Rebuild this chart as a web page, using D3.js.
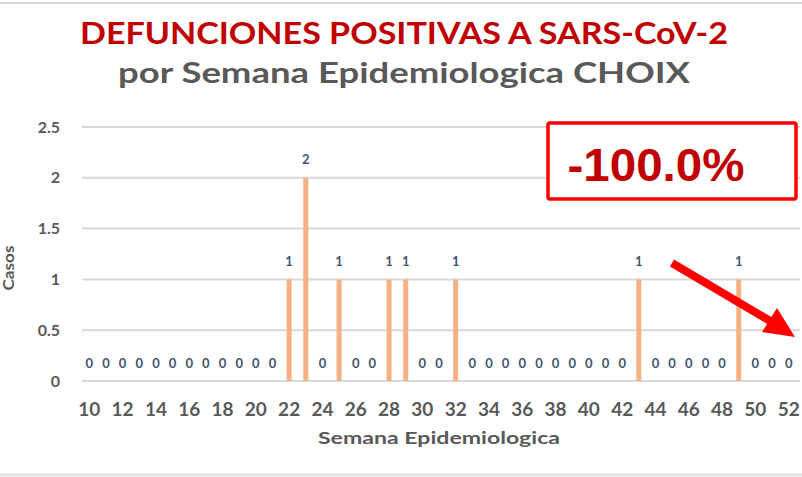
<!DOCTYPE html>
<html><head><meta charset="utf-8">
<script src="https://cdn.jsdelivr.net/npm/d3@7"></script>
<style>body{margin:0;background:#fff}svg{display:block}</style>
</head><body>
<svg id="c" width="802" height="477"></svg>
<script>
const weeks = d3.range(10, 53);
const deaths = [0,0,0,0,0,0,0,0,0,0,0,0, 1,2,0,1,0,0,1,1,0,0,1, 0,0,0,0,0,0,0,0,0,0, 1,0,0,0,0,0, 1,0,0,0];
const yTicks = [0, 0.5, 1, 1.5, 2, 2.5];
const xTickLabels = weeks.filter(w => w % 2 === 0);
const title = "DEFUNCIONES POSITIVAS A SARS-CoV-2";
const subtitle = "por Semana Epidemiologica CHOIX";
const changeLabel = "-100.0%";

const svg = d3.select("#c");
const font = "Lato, 'Open Sans', sans-serif";

// frame lines
svg.append("line").attr("x1",0).attr("x2",802).attr("y1",3).attr("y2",3).attr("stroke","#d9d9d9").attr("stroke-width",2);
svg.append("line").attr("x1",0).attr("x2",802).attr("y1",475).attr("y2",475).attr("stroke","#e3e3e3").attr("stroke-width",3);

const x = d3.scaleBand().domain(weeks).range([81, 797]);
const y = d3.scaleLinear().domain([0, 2.5]).range([381, 127]);

// grid
svg.append("g").selectAll("line").data(yTicks).join("line")
  .attr("x1", 82).attr("x2", 800)
  .attr("y1", d => y(d)).attr("y2", d => y(d))
  .attr("stroke", "#d9d9d9").attr("stroke-width", 2);

// y labels
svg.append("g").selectAll("text").data(yTicks).join("text")
  .attr("x", 60).attr("y", d => y(d)).attr("dy", "0.35em")
  .attr("text-anchor", "end").attr("font-family", font).attr("font-weight", "bold")
  .attr("font-size", 16).attr("fill", "#595959").text(d => d);

// x labels
svg.append("g").selectAll("text").data(xTickLabels).join("text")
  .attr("x", d => x(d) + x.bandwidth()/2).attr("y", 409).attr("dy","0.35em")
  .attr("text-anchor", "middle").attr("font-family", font).attr("font-weight", "bold")
  .attr("font-size", 19).attr("fill", "#595959").text(d => d);

const data = weeks.map((w, i) => ({w, v: deaths[i]}));

// bars
svg.append("g").selectAll("rect").data(data.filter(d => d.v > 0)).join("rect")
  .attr("x", d => x(d.w) + x.bandwidth()/2 - 2.5).attr("width", 5)
  .attr("y", d => y(d.v)).attr("height", d => y(0) - y(d.v))
  .attr("fill", "#F4B183");

// value labels
svg.append("g").selectAll("text").data(data).join("text")
  .attr("x", d => x(d.w) + x.bandwidth()/2).attr("y", d => y(d.v) - 18).attr("dy","0.35em")
  .attr("text-anchor", "middle").attr("font-family", font).attr("font-weight", "bold")
  .attr("font-size", 13).attr("fill", "#44546A").text(d => d.v);

// axis titles
svg.append("text").attr("transform", "translate(14,268) rotate(-90)")
  .attr("text-anchor", "middle").attr("font-family", font).attr("font-weight","bold")
  .attr("font-size", 15).attr("textLength", 45).attr("lengthAdjust", "spacingAndGlyphs")
  .attr("fill", "#595959").text("Casos");
svg.append("text").attr("x", 439).attr("y", 438).attr("dy","0.35em")
  .attr("text-anchor", "middle").attr("font-family", font).attr("font-weight","bold")
  .attr("font-size", 17).attr("textLength", 242).attr("lengthAdjust", "spacingAndGlyphs")
  .attr("fill", "#595959").text("Semana Epidemiologica");

// titles
svg.append("text").attr("x", 404).attr("y", 33).attr("dy","0.35em")
  .attr("text-anchor","middle").attr("font-family", font).attr("font-weight","bold")
  .attr("font-size", 30).attr("textLength", 648).attr("lengthAdjust", "spacingAndGlyphs")
  .attr("fill", "#C00000").text(title);
svg.append("text").attr("x", 404).attr("y", 73).attr("dy","0.35em")
  .attr("text-anchor","middle").attr("font-family", font).attr("font-weight","bold")
  .attr("font-size", 29).attr("textLength", 572).attr("lengthAdjust", "spacingAndGlyphs")
  .attr("fill", "#595959").text(subtitle);

// change box
svg.append("rect").attr("x", 548).attr("y", 123).attr("width", 248).attr("height", 76)
  .attr("fill", "#fff").attr("stroke", "#FF0000").attr("stroke-width", 3.5).attr("rx", 2);
svg.append("text").attr("x", 656).attr("y", 165).attr("dy","0.35em")
  .attr("text-anchor","middle").attr("font-family", "'Liberation Sans', Arial, sans-serif").attr("font-weight","bold")
  .attr("font-size", 47).attr("textLength", 177).attr("lengthAdjust", "spacingAndGlyphs")
  .attr("fill", "#C00000").text(changeLabel);

// arrow
svg.append("line").attr("x1", 672).attr("y1", 263).attr("x2", 772).attr("y2", 322)
  .attr("stroke", "#FF0000").attr("stroke-width", 8);
svg.append("path").attr("d", "M795,337 L762,332 L777,308 Z").attr("fill", "#FF0000");
</script>
</body></html>
